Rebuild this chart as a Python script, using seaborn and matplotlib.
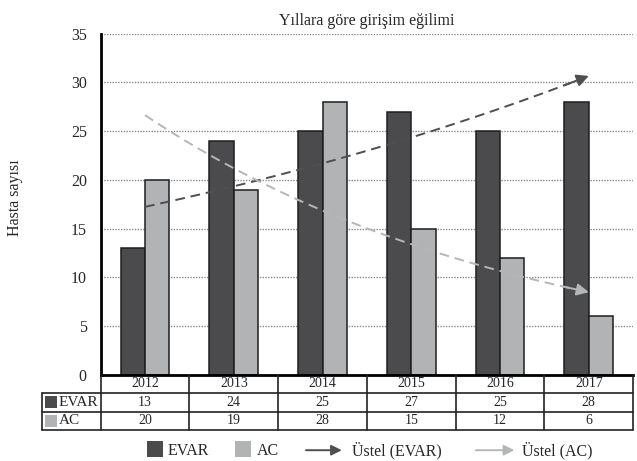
import numpy as np
import pandas as pd
import matplotlib
matplotlib.use("Agg")
import matplotlib.pyplot as plt
import matplotlib.transforms as mtransforms
from matplotlib.patches import Rectangle, FancyArrowPatch
from matplotlib.lines import Line2D
from matplotlib.legend_handler import HandlerBase
import seaborn as sns

# ---- data -------------------------------------------------------------
years = ["2012", "2013", "2014", "2015", "2016", "2017"]
evar = [13, 24, 25, 27, 25, 28]
ac = [20, 19, 28, 15, 12, 6]
series_names = ["EVAR", "AC"]
trend_labels = ["Üstel (EVAR)", "Üstel (AC)"]
title = "Yıllara göre girişim eğilimi"
ylabel = "Hasta sayısı"
yticks = [0, 5, 10, 15, 20, 25, 30, 35]

bar_colors = {"EVAR": "#4b4b4d", "AC": "#b1b3b5"}
trend_colors = {"EVAR": "#4f4f51", "AC": "#b4b6b8"}

sns.set_theme(style="white")
plt.rcParams["font.family"] = ["Liberation Serif", "DejaVu Serif"]

df = pd.DataFrame({
    "Yıl": years * 2,
    "Hasta": evar + ac,
    "Grup": ["EVAR"] * len(years) + ["AC"] * len(years),
})

W, H = 637, 461
fig = plt.figure(figsize=(W / 100, H / 100), dpi=100)
ax = fig.add_axes([0.158, 0.1872, 0.836, 0.7397])

sns.barplot(data=df, x="Yıl", y="Hasta", hue="Grup", order=years,
            hue_order=series_names, palette=bar_colors, saturation=1,
            width=0.55, edgecolor="#1e1e1e", linewidth=1.1, ax=ax,
            legend=False, zorder=2)

ax.set_xlim(-0.5, len(years) - 0.5)
ax.set_ylim(0, 35)
ax.set_yticks(yticks)
ax.set_xticks([])
ax.set_xlabel("")
ax.tick_params(axis="y", direction="out", length=6, width=2, color="black",
               labelsize=11.5, pad=4)
for s in ["top", "right"]:
    ax.spines[s].set_visible(False)
ax.spines["left"].set_color("black")
ax.spines["left"].set_linewidth(2)
ax.spines["bottom"].set_color("black")
ax.spines["bottom"].set_linewidth(2)

# dotted horizontal grid
for v in yticks[1:]:
    ax.axhline(v, color="#8a8a8a", lw=1, ls=(0, (1, 1)), zorder=1)

# exponential trend lines fitted to each series
xi = np.arange(len(years))
xs = np.linspace(0, len(years) - 1, 200)
for name, vals in zip(series_names, [evar, ac]):
    b, a = np.polyfit(xi, np.log(vals), 1)
    ys = np.exp(a + b * xs)
    col = trend_colors[name]
    ax.plot(xs[:-8], ys[:-8], ls=(0, (5, 3)), color=col, lw=1.4, zorder=4)
    ax.annotate("", xy=(xs[-1], ys[-1]), xytext=(xs[-12], ys[-12]),
                arrowprops=dict(arrowstyle="-|>", color=col, lw=1.4,
                                mutation_scale=18, shrinkA=0, shrinkB=0),
                zorder=5)

ax.set_title(title, fontsize=11.5, pad=6)
ax.set_ylabel(ylabel, fontsize=11.5)
ax.yaxis.set_label_coords(-0.145, 0.52)

# ---- data table under the axis ----------------------------------------
trans = mtransforms.blended_transform_factory(ax.transData, ax.transAxes)
rh = 18.5 / 341.0
left_edge = -1.16
line_kw = dict(color="#222222", lw=1.2, transform=trans, clip_on=False,
               zorder=6)
edges = np.arange(len(years) + 1) - 0.5
for e in edges:
    ax.add_line(Line2D([e, e], [0, -3 * rh], **line_kw))
ax.add_line(Line2D([left_edge, left_edge], [-rh, -3 * rh], **line_kw))
for k in (1, 2, 3):
    ax.add_line(Line2D([left_edge, edges[-1]], [-k * rh, -k * rh], **line_kw))

for i, yr in enumerate(years):
    ax.text(i, -0.5 * rh, yr, transform=trans, ha="center", va="center",
            fontsize=10)
for r, (name, vals) in enumerate(zip(series_names, [evar, ac]), start=1):
    yc = -(r + 0.5) * rh
    ax.add_patch(Rectangle((-1.132, yc - 0.0176), 0.135, 0.0352,
                           transform=trans, clip_on=False,
                           facecolor=bar_colors[name], edgecolor="none"))
    ax.text(-0.975, yc, name, transform=trans, ha="left", va="center",
            fontsize=11)
    for i, v in enumerate(vals):
        ax.text(i, yc, str(v), transform=trans, ha="center", va="center",
                fontsize=10)


# ---- legend -----------------------------------------------------------
class SquareHandler(HandlerBase):
    def create_artists(self, legend, orig_handle, xdescent, ydescent,
                       width, height, fontsize, trans):
        s = 16 * 72 / 100.0
        r = Rectangle((width - xdescent - s, height / 2 - ydescent - s / 2),
                      s, s, facecolor=orig_handle.get_facecolor(),
                      edgecolor="none", transform=trans)
        return [r]


class ArrowHandler(HandlerBase):
    def __init__(self, gap):
        super().__init__()
        self.gap = gap

    def create_artists(self, legend, orig_handle, xdescent, ydescent,
                       width, height, fontsize, trans):
        yc = height / 2 - ydescent
        a = FancyArrowPatch((-xdescent, yc), (width - xdescent - self.gap, yc),
                            arrowstyle="-|>", mutation_scale=fontsize * 1.35,
                            color=orig_handle.get_color(), lw=1.4,
                            shrinkA=0, shrinkB=0, transform=trans)
        return [a]


fs = 11.5
em = fs * 100 / 72.0  # font size in pixels
leg_y = 1 - 451 / H

h_bars = [Rectangle((0, 0), 1, 1, facecolor=bar_colors[n]) for n in series_names]
leg1 = fig.legend(h_bars, series_names,
                  handler_map={h: SquareHandler() for h in h_bars},
                  loc="center left", bbox_to_anchor=(147 / W, leg_y), ncol=2,
                  frameon=False, fontsize=fs, borderpad=0, borderaxespad=0,
                  handlelength=16 / em, handletextpad=5 / em,
                  columnspacing=26 / em)

h_trend = [Line2D([], [], color=trend_colors[n]) for n in series_names]
fig.legend(h_trend, trend_labels,
           handler_map={h_trend[0]: ArrowHandler(3), h_trend[1]: ArrowHandler(1)},
           loc="center left", bbox_to_anchor=(306 / W, leg_y), ncol=2,
           frameon=False, fontsize=fs, borderpad=0, borderaxespad=0,
           handlelength=40 / em, handletextpad=6 / em, columnspacing=34 / em)

fig.savefig("out.png", dpi=100)
